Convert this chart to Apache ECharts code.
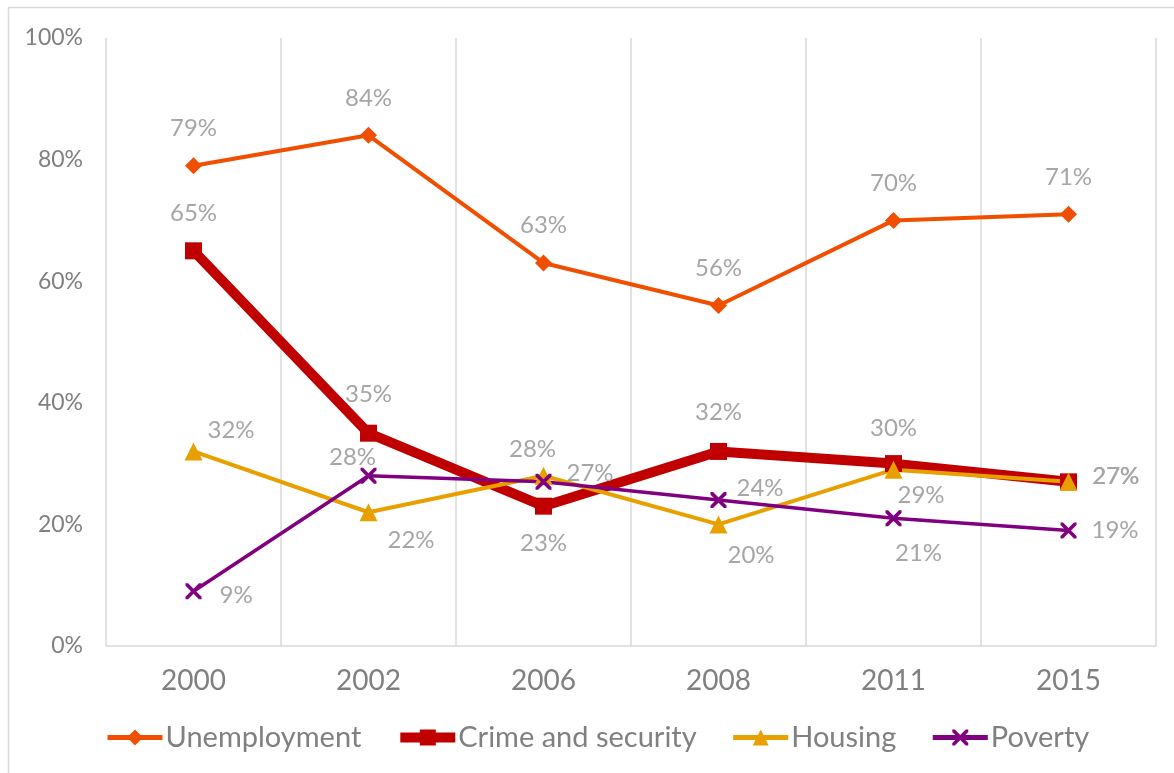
<!DOCTYPE html>
<html>
<head>
<meta charset="utf-8">
<script src="https://cdn.jsdelivr.net/npm/echarts@6/dist/echarts.min.js"></script>
<style>html,body{margin:0;padding:0;background:#fff}#c{width:1174px;height:773px}</style>
</head>
<body>
<div id="c"></div>
<script>
var categories = ['2000', '2002', '2006', '2008', '2011', '2015'];
var unemployment = [79, 84, 63, 56, 70, 71];
var crime = [65, 35, 23, 32, 30, 27];
var housing = [32, 22, 28, 20, 29, 27];
var poverty = [9, 28, 27, 24, 21, 19];
var yTicks = [0, 20, 40, 60, 80, 100];

// label placement (style): [position, dx, dy]
var unempLbl = [['top',0,-12],['top',0,-12],['top',0,-12],['top',0,-12],['top',0,-12],['top',0,-12]];
var crimeLbl = [['top',0,-12],['top',0,-13],['bottom',0,12],['top',0,-14],['top',0,-10],['right',10,-6]];
var housingLbl = [['right',0,-21],['right',5,28],['top',-11,0],['right',-5,31],['right',-10,26],['right',10,-6]];
var povertyLbl = [['right',13,4],['top',-16,7],['right',10,-9],['right',5,-12],['bottom',25,10],['right',10,0]];

var FONT = 'Lato';
function mk(vals, lbl) {
  return vals.map(function (v, i) {
    return { value: v, label: { position: lbl[i][0], offset: [lbl[i][1], lbl[i][2]] } };
  });
}
var labelBase = { show: true, formatter: '{c}%', color: '#a6a6a6', fontSize: 24, fontFamily: FONT };
var crossPath = 'path://M0,0L1.6,0L5,3.4L8.4,0L10,0L10,1.6L6.6,5L10,8.4L10,10L8.4,10L5,6.6L1.6,10L0,10L0,8.4L3.4,5L0,1.6Z';

var chart = echarts.init(document.getElementById('c'));
chart.setOption({
  animation: false,
  backgroundColor: '#fff',
  graphic: [{
    type: 'rect', silent: true,
    shape: { x: 8.5, y: 7.5, width: 1200, height: 800 },
    style: { fill: 'none', stroke: '#d9d9d9', lineWidth: 1.5 }
  }],
  grid: { left: 106, right: 18, top: 38, bottom: 127, containLabel: false },
  xAxis: {
    type: 'category', data: categories, boundaryGap: true,
    axisLine: { show: true, lineStyle: { color: '#d9d9d9', width: 1.5 } },
    axisTick: { show: false },
    splitLine: { show: true, lineStyle: { color: '#d9d9d9', width: 1.5 } },
    axisLabel: { color: '#808080', fontSize: 28, fontFamily: FONT, margin: 21 }
  },
  yAxis: {
    type: 'value', min: yTicks[0], max: yTicks[yTicks.length - 1], interval: 20,
    axisLine: { show: false }, axisTick: { show: false }, splitLine: { show: false },
    axisLabel: { color: '#808080', fontSize: 23, fontFamily: FONT, margin: 23, formatter: '{value}%' }
  },
  legend: {
    bottom: 16, left: 100, itemWidth: 55, itemHeight: 20, itemGap: 34,
    textStyle: { color: '#808080', fontSize: 29, fontFamily: FONT, padding: [0, 0, 0, -2] },
    data: [
      { name: 'Unemployment', lineStyle: { width: 5 } },
      { name: 'Crime and security', lineStyle: { width: 10 } },
      { name: 'Housing', lineStyle: { width: 5 } },
      { name: 'Poverty', lineStyle: { width: 5 } }
    ]
  },
  series: [
    {
      name: 'Unemployment', type: 'line', data: mk(unemployment, unempLbl),
      symbol: 'diamond', symbolSize: 17,
      lineStyle: { color: '#F04E00', width: 4 }, itemStyle: { color: '#F04E00' },
      label: labelBase
    },
    {
      name: 'Crime and security', type: 'line', data: mk(crime, crimeLbl),
      symbol: 'rect', symbolSize: 17,
      lineStyle: { color: '#C00000', width: 10 }, itemStyle: { color: '#C00000' },
      label: labelBase
    },
    {
      name: 'Housing', type: 'line', data: mk(housing, housingLbl),
      symbol: 'triangle', symbolSize: 18,
      lineStyle: { color: '#E8A000', width: 4 }, itemStyle: { color: '#E8A000' },
      label: labelBase
    },
    {
      name: 'Poverty', type: 'line', data: mk(poverty, povertyLbl),
      symbol: crossPath, symbolSize: 16,
      lineStyle: { color: '#800080', width: 3.5 }, itemStyle: { color: '#800080' },
      label: labelBase
    }
  ]
});
</script>
</body>
</html>
